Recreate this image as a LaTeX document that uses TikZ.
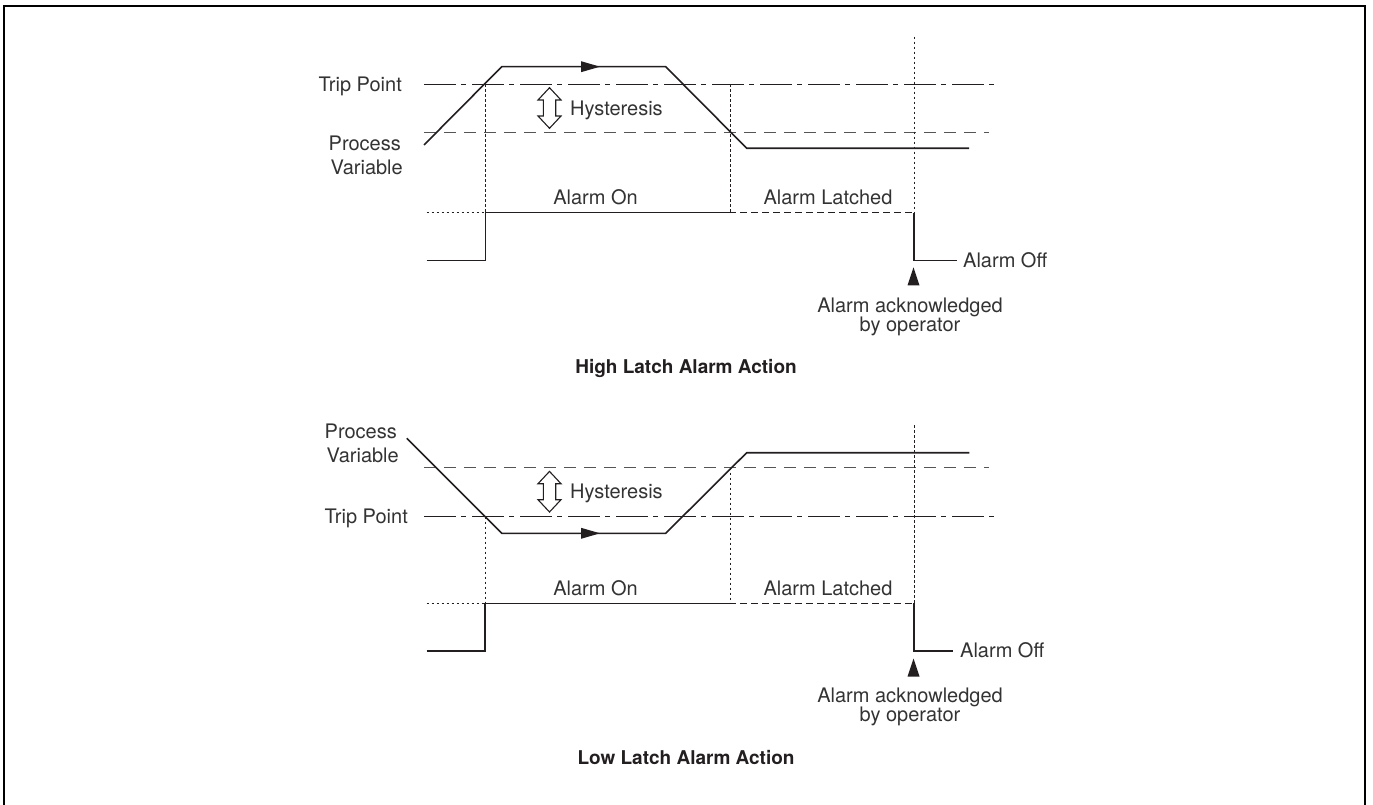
\documentclass[tikz,border=0pt]{standalone}
\usepackage{fontspec}
\setmainfont{TeX Gyre Heros}
\definecolor{ink}{HTML}{231F20}
\definecolor{txt}{HTML}{333333}
\definecolor{dash}{HTML}{555555}
\begin{document}
\begin{tikzpicture}[x=1pt,y=-1pt,
  frame/.style={line width=2pt, draw=black},
  pv/.style={line width=1.6pt, draw=ink, line join=miter},
  trip/.style={line width=1.5pt, draw=ink, dash pattern=on 32pt off 5pt on 5pt off 6pt},
  hysline/.style={line width=1.5pt, draw=dash, dash pattern=on 12pt off 8pt},
  guide/.style={line width=0.8pt, draw=ink, dash pattern=on 2.5pt off 2.5pt},
  sig/.style={line width=1.6pt, draw=ink, line join=miter},
  latch/.style={line width=1.4pt, draw=ink, dash pattern=on 7pt off 4pt},
  lbl/.style={font=\fontsize{20}{22}\selectfont, text=txt, inner sep=0pt},
  ttl/.style={font=\fontsize{19}{21}\selectfont\bfseries, text=ink, inner sep=0pt},
  hysarrow/.pic={\draw[line width=1.1pt, draw=ink, fill=white]
      (0,-20.3) -- (11.5,-8) -- (6.2,-8) -- (6.2,8) -- (11.5,8) -- (0,20.3)
      -- (-11.5,8) -- (-6.2,8) -- (-6.2,-8) -- (-11.5,-8) -- cycle;},
  flowtip/.pic={\fill[ink] (0,0) -- (-19,-5.5) -- (-19,5.5) -- cycle;},
  acktip/.pic={\fill[ink] (0,0) -- (-6,18) -- (6,18) -- cycle;}
]
\useasboundingbox (0,0) rectangle (1373,805);
% frame
\coordinate (fbl) at (4,810);
\coordinate (ftl) at (4,6);
\coordinate (ftr) at (1365,6);
\coordinate (fbr) at (1365,810);
\draw[frame] (fbl) -- (ftl) -- (ftr) -- (fbr);

%%%%%%%%%%%%%%%% HIGH LATCH %%%%%%%%%%%%%%%%
\coordinate (t1a) at (424,84.3);  \coordinate (t1b) at (995,84.3);
\coordinate (d1a) at (424,132.7); \coordinate (d1b) at (989,132.7);
\draw[trip] (t1a) -- (t1b);
\draw[hysline] (d1a) -- (d1b);
\coordinate (g1a) at (485.3,84.3);  \coordinate (g1b) at (485.3,212.7);
\coordinate (g2a) at (730,84.3);    \coordinate (g2b) at (730,212.7);
\coordinate (g3a) at (914.3,36.7);  \coordinate (g3b) at (914.3,212.7);
\coordinate (g4a) at (426.7,212.7);
\draw[guide] (g1a) -- (g1b);
\draw[guide] (g2a) -- (g2b);
\draw[guide] (g3a) -- (g3b);
\draw[guide] (g4a) -- (g1b);
\coordinate (p1) at (424,145);
\coordinate (p2) at (501.7,66.7);
\coordinate (p3) at (665.7,66.7);
\coordinate (p4) at (746.7,148.3);
\coordinate (p5) at (969,148.3);
\draw[pv] (p1) -- (p2) -- (p3) -- (p4) -- (p5);
\pic at (600,66.7) {flowtip};
\pic at (549.5,108) {hysarrow};
\node[lbl, anchor=base west] (hys1) at (570,115.7) {Hysteresis};
\node[lbl, anchor=base east] (trip1) at (402,91.3) {Trip Point};
\node[lbl, anchor=base east] (proc1) at (401,150.2) {Process};
\node[lbl, anchor=base east] (var1) at (403,174.2) {Variable};
\coordinate (s1) at (426.7,260.3);
\coordinate (s2) at (485.3,260.3);
\coordinate (s3) at (485.3,212.7);
\coordinate (s4) at (729,212.7);
\coordinate (s5) at (914,212.7);
\coordinate (s6) at (914,260.3);
\coordinate (s7) at (956.7,260.3);
\draw[sig] (s1) -- (s2) -- (s3) -- (s4);
\draw[latch] (s4) -- (s5);
\draw[sig] (s5) -- (s6) -- (s7);
\node[lbl, anchor=base] (on1) at (595.5,205) {Alarm On};
\node[lbl, anchor=base] (lat1) at (828,205) {Alarm Latched};
\node[lbl, anchor=base west] (off1) at (963,267.3) {Alarm Off};
\pic at (913.5,267.3) {acktip};
\node[lbl, anchor=base] (ack1) at (910,312.3) {Alarm acknowledged};
\node[lbl, anchor=base] (op1) at (910,331) {by operator};
\node[ttl, anchor=base] (title1) at (686,373.5) {High Latch Alarm Action};

%%%%%%%%%%%%%%%% LOW LATCH %%%%%%%%%%%%%%%%
\coordinate (t2a) at (424,516.7); \coordinate (t2b) at (995,516.7);
\coordinate (d2a) at (424,467.7); \coordinate (d2b) at (989,467.7);
\draw[trip] (t2a) -- (t2b);
\draw[hysline] (d2a) -- (d2b);
\coordinate (h1a) at (485,516.7);  \coordinate (h1b) at (485,603.3);
\coordinate (h2a) at (730.3,467.7);\coordinate (h2b) at (730.3,603.3);
\coordinate (h3a) at (914.3,425);  \coordinate (h3b) at (914.3,603.3);
\coordinate (h4a) at (426.7,603.3);
\draw[guide] (h1a) -- (h1b);
\draw[guide] (h2a) -- (h2b);
\draw[guide] (h3a) -- (h3b);
\draw[guide] (h4a) -- (h1b);
\coordinate (q1) at (406.7,438.3);
\coordinate (q2) at (501.7,533.3);
\coordinate (q3) at (665.7,533.3);
\coordinate (q4) at (746.7,452.7);
\coordinate (q5) at (969.3,452.7);
\draw[pv] (q1) -- (q2) -- (q3) -- (q4) -- (q5);
\pic at (600,533.3) {flowtip};
\pic at (549.5,491.7) {hysarrow};
\node[lbl, anchor=base west] (hys2) at (570,498.7) {Hysteresis};
\node[lbl, anchor=base east] (trip2) at (408,523.7) {Trip Point};
\node[lbl, anchor=base east] (proc2) at (397,438.7) {Process};
\node[lbl, anchor=base east] (var2) at (399,462.7) {Variable};
\coordinate (r1) at (426.7,650.7);
\coordinate (r2) at (485,650.7);
\coordinate (r3) at (485,603.3);
\coordinate (r4) at (729,603.3);
\coordinate (r5) at (914,603.3);
\coordinate (r6) at (914,650.7);
\coordinate (r7) at (953,650.7);
\draw[sig] (r1) -- (r2) -- (r3) -- (r4);
\draw[latch] (r4) -- (r5);
\draw[sig] (r5) -- (r6) -- (r7);
\node[lbl, anchor=base] (on2) at (595.5,595.6) {Alarm On};
\node[lbl, anchor=base] (lat2) at (828,595.6) {Alarm Latched};
\node[lbl, anchor=base west] (off2) at (960,657.7) {Alarm Off};
\pic at (913.5,658.5) {acktip};
\node[lbl, anchor=base] (ack2) at (910,702.7) {Alarm acknowledged};
\node[lbl, anchor=base] (op2) at (910,721.4) {by operator};
\node[ttl, anchor=base] (title2) at (686,764) {Low Latch Alarm Action};
\end{tikzpicture}
\end{document}
